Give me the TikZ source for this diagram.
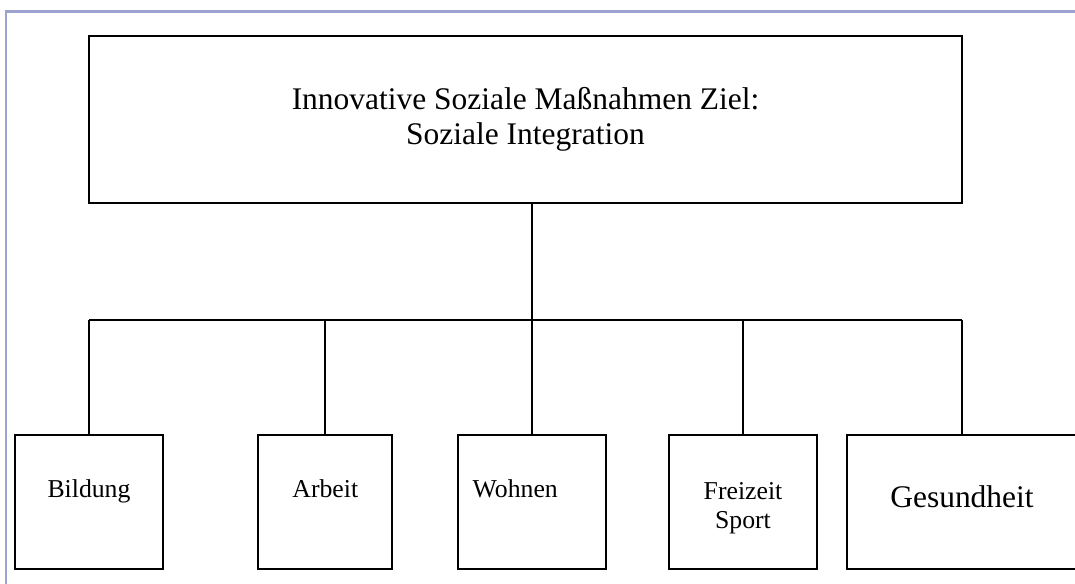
\documentclass[tikz,border=0pt]{standalone}
\usepackage{fontspec}
\setmainfont{Liberation Serif}
\usetikzlibrary{positioning}
\definecolor{framelilac}{HTML}{9CA3CF}
\tikzset{
  every node/.style={text=black},
  goalbox/.style={draw=black,line width=1.5pt,inner sep=0pt,minimum width=654.75pt,minimum height=125.25pt,align=center,font=\fontsize{23.6}{25.9}\selectfont},
  areabox/.style={draw=black,line width=1.5pt,inner sep=0pt,minimum width=111pt,minimum height=100.5pt,font=\fontsize{19.3}{21.75}\selectfont,text height=13pt,text depth=20.5pt},
  bigarea/.style={areabox,font=\fontsize{23.6}{25.9}\selectfont,text height=16pt,text depth=8.5pt},
  link/.style={draw=black,line width=1.5pt},
  frameline/.style={draw=framelilac,line width=1.9pt}
}

\begin{document}
\begin{tikzpicture}[x=0.75pt,y=-0.75pt,node distance=48pt]
  \useasboundingbox (0,0) rectangle (1075,583);
  \clip (0,0) rectangle (1075,583);
  \draw[frameline] (6,590) -- (6,11.5) -- (1085,11.5);

  \node[goalbox] (goal) at (525.5,119.5) {Innovative Soziale Maßnahmen Ziel:\\Soziale Integration};

  \node[areabox] (bildung) at (89,502) {Bildung};
  \node[areabox,minimum width=100.5pt,right=70pt of bildung] (arbeit) {Arbeit};
  \node[areabox,right=47.5pt of arbeit,text width=88.5pt,align=left] (wohnen) {Wohnen};
  \node[areabox,right=46pt of wohnen,text height=,text depth=,align=center] (freizeit) {\rule{0pt}{22.3pt}Freizeit\\Sport};
  \node[bigarea,minimum width=172.5pt,right=21pt of freizeit] (gesund) {Gesundheit};

  \coordinate (bus) at (wohnen.north |- 0,320);
  \draw[link] (goal.south -| wohnen.north) -- (wohnen.north);
  \draw[link] (bildung.north |- bus) -- (gesund.north |- bus);
  \foreach \area in {bildung,arbeit,freizeit,gesund}
    \draw[link] (\area.north |- bus) -- (\area.north);
\end{tikzpicture}
\end{document}
